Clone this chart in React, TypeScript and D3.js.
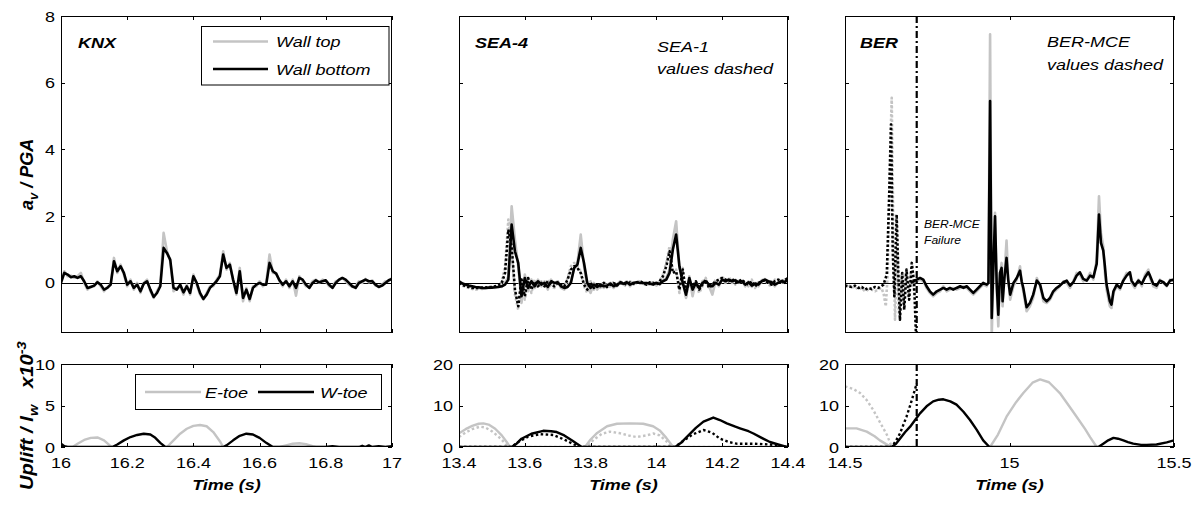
import React from 'react';
import * as d3 from 'd3';

type Pt = [number, number];

// ---------------- DATA ----------------
const sampleStep = 0.01;

// KNX acceleration (a_v / PGA), sampled every 0.01 s from 16.0 s
const knxStart = 16.0;
const knxWallTop = [
  0.05, 0.35, 0.2, 0.22, 0.15, 0.2, 0.3, 0.0, -0.2, -0.1,
  -0.1, 0.05, -0.1, -0.25, -0.12, -0.05, 0.75, 0.3, 0.55, 0.25,
  -0.1, 0.1, -0.2, 0.0, -0.3, 0.0, 0.1, -0.25, -0.45, -0.25,
  -0.05, 1.5, 0.95, 0.65, -0.25, -0.15, -0.1, -0.35, -0.05, -0.35,
  0.25, -0.05, -0.35, -0.5, -0.3, -0.1, -0.1, 0.1, 0.25, 0.95,
  0.4, 0.6, 0.05, -0.35, 0.45, -0.55, -0.15, -0.55, -0.1, -0.1,
  0.05, -0.1, 0.0, 0.85, 0.3, 0.3, 0.05, -0.1, 0.1, -0.15,
  0.1, -0.38, 0.2, 0.05, -0.1, -0.1, 0.05, 0.1, 0.0, 0.1,
  0.05, -0.1, -0.12, 0.05, 0.08, 0.15, 0.05, -0.05, -0.12, -0.1,
  0.05, 0.0, 0.12, 0.02, 0.08, -0.08, -0.1, -0.05, 0.05, 0.05,
  0.15,
];
const knxWallBottom = [
  0.0, 0.3, 0.25, 0.17, 0.2, 0.15, 0.2, 0.05, -0.15, -0.12,
  -0.08, 0.02, -0.05, -0.2, -0.15, -0.05, 0.65, 0.35, 0.5, 0.3,
  -0.05, 0.05, -0.15, -0.05, -0.25, -0.02, 0.05, -0.2, -0.42, -0.3,
  -0.1, 1.05, 0.9, 0.7, -0.15, -0.2, -0.05, -0.28, -0.1, -0.3,
  0.2, 0.0, -0.3, -0.48, -0.35, -0.15, -0.05, 0.05, 0.2, 0.85,
  0.45, 0.55, 0.1, -0.3, 0.35, -0.45, -0.2, -0.48, -0.15, -0.05,
  0.0, -0.05, -0.05, 0.6, 0.35, 0.28, 0.08, -0.05, 0.05, -0.1,
  0.05, -0.15, 0.15, 0.1, -0.05, -0.15, 0.0, 0.08, 0.02, 0.05,
  0.08, -0.05, -0.15, 0.0, 0.1, 0.15, 0.1, 0.0, -0.1, -0.15,
  0.0, 0.05, 0.1, 0.05, 0.05, -0.05, -0.12, -0.08, 0.0, 0.08,
  0.12,
];

// SEA-4 (solid) and SEA-1 (dashed), sampled every 0.01 s from 13.4 s
const seaStart = 13.4;
const sea4WallTop = [
  0.05, 0.0, -0.08, -0.1, -0.12, -0.15, -0.15, -0.18, -0.15, -0.15,
  -0.12, -0.15, -0.1, -0.12, 0.0, 0.2, 2.3, 1.3, 0.5, -0.6,
  0.25, -0.25, 0.1, -0.15, 0.1, -0.1, 0.05, -0.2, 0.1, -0.05,
  0.05, -0.15, -0.2, -0.1, 0.05, 0.45, 0.6, 1.45, 0.5, -0.1,
  -0.3, 0.0, -0.2, -0.05, -0.15, -0.05, 0.0, -0.15, -0.05, 0.05,
  -0.05, 0.05, -0.1, 0.02, 0.0, 0.05, -0.02, 0.0, -0.05, -0.02,
  0.02, -0.05, 0.08, 0.15, 0.4, 1.3, 1.85, 0.45, 0.1, -0.45,
  0.2, -0.4, 0.05, -0.2, 0.05, 0.1, -0.1, -0.35, 0.05, -0.1,
  0.15, 0.0, 0.12, 0.0, 0.1, 0.0, 0.08, -0.1, 0.05, -0.12,
  0.0, -0.1, 0.08, 0.12, 0.02, 0.05, -0.1, 0.02, 0.08, 0.0,
  0.15,
];
const sea4WallBottom = [
  0.05, -0.02, -0.05, -0.08, -0.1, -0.12, -0.13, -0.15, -0.15, -0.14,
  -0.14, -0.13, -0.12, -0.1, -0.05, 0.1, 1.75, 0.95, 0.6, -0.4,
  0.15, -0.15, 0.05, -0.1, 0.05, -0.05, 0.0, -0.12, 0.05, 0.0,
  0.02, -0.1, -0.15, -0.12, 0.0, 0.45, 0.55, 1.05, 0.6, 0.0,
  -0.15, -0.05, -0.12, -0.05, -0.1, -0.08, -0.02, -0.1, -0.05, 0.0,
  -0.02, 0.02, -0.05, 0.0, 0.02, 0.0, 0.0, 0.0, -0.02, -0.05,
  0.0, -0.03, 0.05, 0.1, 0.3, 1.0, 1.45, 0.5, 0.0, -0.35,
  0.15, -0.2, 0.0, -0.15, 0.0, 0.05, -0.05, -0.1, 0.0, -0.05,
  0.1, 0.05, 0.1, 0.05, 0.08, 0.02, 0.05, -0.05, 0.02, -0.08,
  -0.02, -0.05, 0.05, 0.1, 0.05, 0.02, -0.05, 0.0, 0.05, 0.02,
  0.12,
];
const sea1WallTop = [
  0.0, -0.08, -0.12, -0.15, -0.18, -0.2, -0.18, -0.15, -0.16, -0.14,
  -0.15, -0.12, -0.1, 0.05, 0.5, 1.9, 1.0, -0.35, -0.8, 0.15,
  -0.5, 0.2, -0.3, 0.1, -0.15, 0.05, -0.15, 0.1, -0.1, -0.15,
  0.05, -0.1, -0.15, 0.15, 0.5, 0.6, 0.5, 0.35, -0.1, -0.3,
  0.05, -0.2, -0.1, -0.15, 0.05, -0.15, -0.1, 0.05, -0.1, 0.0,
  -0.05, -0.1, 0.05, -0.05, 0.02, 0.08, -0.02, -0.08, 0.0, 0.02,
  -0.08, 0.05, 0.25, 0.6, 1.1, 0.35, 0.4, -0.3, 0.45, -0.45,
  0.1, -0.15, 0.0, -0.3, -0.1, 0.15, -0.2, -0.1, 0.1, 0.05,
  0.2, 0.05, 0.1, 0.15, -0.05, 0.1, 0.05, -0.05, -0.1, 0.1,
  -0.15, 0.05, 0.0, 0.1, -0.05, -0.1, 0.1, 0.05, 0.0, 0.1,
  0.1,
];
const sea1WallBottom = [
  0.0, -0.05, -0.1, -0.12, -0.15, -0.15, -0.15, -0.14, -0.14, -0.12,
  -0.12, -0.1, -0.08, 0.0, 0.3, 1.6, 1.1, -0.2, -0.7, 0.1,
  -0.4, 0.15, -0.2, 0.05, -0.1, 0.0, -0.1, 0.05, -0.05, -0.1,
  0.0, -0.05, -0.1, 0.1, 0.4, 0.5, 0.45, 0.3, -0.05, -0.2,
  0.0, -0.15, -0.05, -0.1, 0.0, -0.12, -0.05, 0.0, -0.08, 0.02,
  0.0, -0.05, 0.02, -0.02, 0.0, 0.05, 0.0, -0.05, 0.02, 0.0,
  -0.05, 0.05, 0.2, 0.5, 0.95, 0.3, 0.35, -0.2, 0.4, -0.3,
  0.05, -0.1, 0.05, -0.2, -0.05, 0.1, -0.15, -0.05, 0.05, 0.1,
  0.15, 0.1, 0.05, 0.12, 0.0, 0.05, 0.1, 0.0, -0.05, 0.05,
  -0.1, 0.0, 0.05, 0.08, 0.0, -0.05, 0.05, 0.1, 0.05, 0.08,
  0.15,
];

// BER (solid) and BER-MCE (dashed), [time, a_v/PGA]
const berWallTop: Pt[] = [
  [14.7, 0.0], [14.718, 0.05], [14.728, 0.1], [14.738, 0.05], [14.748, -0.15], [14.758, -0.3], [14.768, -0.4],
  [14.779, -0.3], [14.789, -0.25], [14.799, -0.1], [14.809, -0.25], [14.819, -0.2], [14.829, -0.15], [14.839, -0.2],
  [14.85, -0.15], [14.86, -0.1], [14.87, -0.15], [14.88, -0.25], [14.89, -0.35], [14.9, -0.25], [14.91, -0.15],
  [14.92, -0.05], [14.931, -0.1], [14.936, 0.0], [14.941, 7.45], [14.946, -1.6], [14.951, 0.3], [14.956, 2.1],
  [14.961, -0.2], [14.966, -1.3], [14.971, 0.2], [14.976, 0.6], [14.979, -0.7], [14.985, 0.3], [14.991, 1.27],
  [14.996, 0.2], [15.002, -0.5], [15.012, -0.1], [15.022, 0.1], [15.032, 0.5], [15.037, 0.0], [15.042, -0.25],
  [15.052, -0.85], [15.062, -0.7], [15.072, -0.45], [15.083, 0.15], [15.093, -0.1], [15.103, -0.55], [15.113, -0.6],
  [15.123, -0.5], [15.133, -0.3], [15.143, -0.2], [15.153, -0.1], [15.164, 0.05], [15.174, 0.0], [15.184, -0.15],
  [15.194, 0.05], [15.204, 0.3], [15.214, 0.25], [15.224, 0.05], [15.235, 0.1], [15.245, 0.3], [15.255, 0.1],
  [15.265, 0.7], [15.272, 2.6], [15.278, 1.5], [15.285, 1.1], [15.29, 0.3], [15.295, -0.2], [15.305, -0.7],
  [15.31, -0.75], [15.316, -0.3], [15.326, -0.1], [15.336, -0.2], [15.346, 0.1], [15.356, 0.3], [15.366, 0.25],
  [15.371, 0.0], [15.381, -0.15], [15.392, 0.1], [15.402, -0.1], [15.412, 0.25], [15.422, 0.4], [15.427, 0.15],
  [15.437, -0.1], [15.447, -0.15], [15.457, 0.1], [15.468, 0.0], [15.478, -0.1], [15.488, 0.1], [15.5, 0.05],
];
const berWallBottom: Pt[] = [
  [14.7, 0.0], [14.718, 0.1], [14.728, 0.15], [14.738, 0.1], [14.748, -0.1], [14.758, -0.25], [14.768, -0.35],
  [14.779, -0.25], [14.789, -0.2], [14.799, -0.15], [14.809, -0.2], [14.819, -0.15], [14.829, -0.2], [14.839, -0.15],
  [14.85, -0.1], [14.86, -0.15], [14.87, -0.1], [14.88, -0.2], [14.89, -0.3], [14.9, -0.2], [14.91, -0.1],
  [14.92, 0.0], [14.931, -0.05], [14.936, 0.0], [14.941, 5.45], [14.946, -1.05], [14.951, 0.5], [14.956, 2.0],
  [14.961, 0.0], [14.966, -0.95], [14.971, 0.3], [14.976, 0.45], [14.979, -0.55], [14.985, 0.2], [14.991, 0.75],
  [14.996, 0.1], [15.002, -0.35], [15.012, 0.0], [15.022, 0.15], [15.032, 0.37], [15.037, 0.05], [15.042, -0.15],
  [15.052, -0.73], [15.062, -0.6], [15.072, -0.35], [15.083, 0.07], [15.093, -0.05], [15.103, -0.45], [15.113, -0.55],
  [15.123, -0.45], [15.133, -0.25], [15.143, -0.15], [15.153, -0.08], [15.164, 0.02], [15.174, 0.07], [15.184, -0.08],
  [15.194, 0.02], [15.204, 0.22], [15.214, 0.32], [15.224, 0.12], [15.235, 0.07], [15.245, 0.22], [15.255, 0.17],
  [15.265, 0.57], [15.272, 2.05], [15.278, 1.2], [15.285, 0.97], [15.29, 0.5], [15.295, -0.05], [15.305, -0.55],
  [15.31, -0.65], [15.316, -0.25], [15.326, -0.05], [15.336, -0.15], [15.346, 0.07], [15.356, 0.22], [15.366, 0.32],
  [15.371, 0.07], [15.381, -0.08], [15.392, 0.07], [15.402, -0.03], [15.412, 0.17], [15.422, 0.32], [15.427, 0.22],
  [15.437, -0.03], [15.447, -0.08], [15.457, 0.07], [15.468, 0.02], [15.478, -0.08], [15.488, 0.07], [15.5, 0.1],
];
const berMceWallTop: Pt[] = [
  [14.5, -0.1], [14.51, -0.05], [14.52, -0.15], [14.53, -0.1], [14.541, -0.2], [14.551, -0.15], [14.561, -0.25],
  [14.571, -0.2], [14.581, -0.2], [14.591, -0.25], [14.601, -0.2], [14.61, -0.15], [14.617, -0.3], [14.624, -0.7],
  [14.63, 0.3], [14.636, 3.5], [14.642, 5.55], [14.647, 1.5], [14.652, -1.1], [14.658, 1.0], [14.664, -0.9],
  [14.67, 0.2], [14.677, -0.6], [14.684, 0.3], [14.692, -0.4], [14.7, 0.3], [14.708, -0.2], [14.715, 0.1],
];
const berMceWallBottom: Pt[] = [
  [14.5, -0.08], [14.51, -0.1], [14.52, -0.12], [14.53, -0.08], [14.541, -0.15], [14.551, -0.12], [14.561, -0.2],
  [14.571, -0.15], [14.581, -0.18], [14.591, -0.12], [14.601, -0.15], [14.61, -0.1], [14.617, -0.05], [14.627, 0.25],
  [14.634, 2.5], [14.64, 4.75], [14.645, 1.0], [14.65, -0.4], [14.657, 2.05], [14.662, 0.3], [14.667, -1.1],
  [14.674, 0.3], [14.68, -0.8], [14.687, 0.4], [14.695, -0.5], [14.703, 0.6], [14.71, 0.0], [14.716, -1.6],
];
const berFailureTime = 14.718;

// Uplift / l_w (x10^-3)
const knxEToe: Pt[] = [
  [16, 0], [16.035, 0], [16.05, 0.4], [16.07, 0.85], [16.09, 1.1], [16.11, 1.15], [16.13, 0.8], [16.15, 0.1],
  [16.155, 0], [16.32, 0], [16.34, 0.8], [16.36, 1.6], [16.38, 2.2], [16.4, 2.55], [16.42, 2.65], [16.44, 2.5],
  [16.46, 1.8], [16.48, 0.7], [16.49, 0], [16.66, 0], [16.68, 0.2], [16.7, 0.4], [16.72, 0.45], [16.74, 0.35],
  [16.76, 0.1], [16.77, 0], [17, 0],
];
const knxWToe: Pt[] = [
  [16, 0.4], [16.01, 0.1], [16.02, 0], [16.155, 0], [16.17, 0.3], [16.19, 0.8], [16.21, 1.2], [16.23, 1.45],
  [16.25, 1.6], [16.27, 1.5], [16.285, 1.1], [16.3, 0.5], [16.315, 0], [16.49, 0], [16.5, 0.2], [16.52, 0.8],
  [16.54, 1.35], [16.56, 1.6], [16.58, 1.5], [16.6, 1.1], [16.62, 0.5], [16.64, 0], [16.8, 0], [16.82, 0.1],
  [16.84, 0], [16.9, 0], [16.91, 0.15], [16.92, 0], [16.93, 0.2], [16.94, 0], [16.96, 0.1], [16.98, 0], [17, 0.1],
];
const sea4EToe: Pt[] = [
  [13.4, 3.3], [13.42, 4.3], [13.44, 5.1], [13.46, 5.6], [13.474, 5.7], [13.49, 5.4], [13.51, 4.4], [13.53, 2.8],
  [13.545, 1.2], [13.555, 0], [13.783, 0], [13.8, 1.8], [13.82, 3.4], [13.85, 5.0], [13.88, 5.6], [13.92, 5.7],
  [13.96, 5.6], [13.99, 5.0], [14.01, 4.0], [14.03, 2.2], [14.051, 0], [14.4, 0],
];
const sea1EToe: Pt[] = [
  [13.4, 2.4], [13.42, 3.5], [13.44, 4.3], [13.464, 4.9], [13.48, 4.7], [13.5, 3.8], [13.52, 2.5], [13.54, 0.9],
  [13.55, 0], [13.788, 0], [13.81, 1.8], [13.835, 3.2], [13.859, 3.7], [13.89, 3.3], [13.92, 2.7], [13.94, 2.4],
  [13.97, 2.8], [13.991, 3.25], [14.01, 2.8], [14.03, 1.4], [14.046, 0], [14.4, 0],
];
const sea4WToe: Pt[] = [
  [13.4, 0], [13.56, 0], [13.575, 0.8], [13.59, 2.0], [13.62, 3.2], [13.656, 3.9], [13.68, 3.8], [13.697, 3.6],
  [13.72, 2.8], [13.745, 1.5], [13.773, 0], [14.057, 0], [14.075, 1.0], [14.092, 2.4], [14.12, 4.6], [14.143, 6.1],
  [14.173, 7.1], [14.193, 6.5], [14.214, 5.7], [14.24, 4.9], [14.254, 4.5], [14.28, 3.8], [14.295, 3.25],
  [14.32, 2.2], [14.345, 1.2], [14.37, 0.6], [14.396, 0],
];
const sea1WToe: Pt[] = [
  [13.4, 0], [13.56, 0], [13.58, 1.2], [13.61, 2.5], [13.646, 3.1], [13.687, 2.9], [13.72, 1.8], [13.75, 0.6],
  [13.768, 0], [14.057, 0], [14.08, 1.4], [14.11, 3.0], [14.143, 4.1], [14.17, 3.4], [14.193, 2.0], [14.22, 1.2],
  [14.244, 0.8], [14.295, 0.8], [14.345, 0.6], [14.396, 0],
];
const berEToe: Pt[] = [
  [14.5, 4.5], [14.535, 4.5], [14.566, 3.7], [14.59, 2.6], [14.606, 1.6], [14.625, 0.7], [14.642, 0], [14.941, 0],
  [14.965, 3.0], [14.991, 7.3], [15.02, 10.8], [15.042, 13.0], [15.07, 15.5], [15.093, 16.3], [15.12, 15.6],
  [15.153, 13.0], [15.18, 10.0], [15.204, 7.3], [15.23, 4.3], [15.245, 2.4], [15.265, 0], [15.5, 0],
];
const berWToe: Pt[] = [
  [14.5, 0], [14.642, 0], [14.655, 0.8], [14.667, 2.0], [14.683, 3.6], [14.698, 4.9], [14.713, 6.5], [14.728, 8.1],
  [14.748, 9.8], [14.768, 11.0], [14.785, 11.4], [14.799, 11.5], [14.82, 11.0], [14.839, 10.2], [14.86, 8.5],
  [14.88, 6.5], [14.9, 4.2], [14.92, 1.6], [14.939, 0], [15.27, 0], [15.285, 0.8], [15.3, 1.6], [15.316, 2.2],
  [15.33, 2.0], [15.346, 1.6], [15.36, 1.2], [15.376, 0.8], [15.4, 0.5], [15.417, 0.5], [15.447, 0.6],
  [15.478, 1.1], [15.5, 1.6],
];
const berMceEToe: Pt[] = [
  [14.5, 14.6], [14.525, 14.0], [14.546, 13.0], [14.566, 11.3], [14.586, 8.9], [14.606, 6.0], [14.627, 3.0],
  [14.642, 0], [14.718, 0],
];
const berMceWToe: Pt[] = [
  [14.5, 0], [14.642, 0], [14.655, 1.5], [14.667, 3.25], [14.687, 7.3], [14.7, 10.5], [14.718, 15.3],
];

// Ticks
const accelTicks = [0, 2, 4, 6, 8];
const knxTimeTicks = [16, 16.2, 16.4, 16.6, 16.8, 17];
const seaTimeTicks = [13.4, 13.6, 13.8, 14, 14.2, 14.4];
const berTimeTicks = [14.5, 15, 15.5];
const knxUpliftTicks = [0, 5, 10];
const upliftTicks = [0, 10, 20];

// ---------------- RENDERING ----------------
const FONT = "'Liberation Sans', Arial, Helvetica, sans-serif";
const GRAY = '#c4c4c4';
const SX = 1.2;

const regular = (t0: number, vals: number[]): Pt[] => vals.map((v, i) => [t0 + i * sampleStep, v]);

type Series = { data: Pt[]; color: string; width: number; dash?: string };

function Txt(props: {
  x: number; y: number; size?: number; anchor?: string; bold?: boolean; italic?: boolean; sx?: number;
  children: React.ReactNode;
}) {
  const { x, y, size = 15, anchor = 'start', bold = false, italic = false, sx = SX, children } = props;
  return (
    <text
      transform={`translate(${x},${y}) scale(${sx},1)`}
      fontFamily={FONT}
      fontSize={size}
      textAnchor={anchor}
      fontWeight={bold ? 'bold' : 'normal'}
      fontStyle={italic ? 'italic' : 'normal'}
      fill="#000"
    >
      {children}
    </text>
  );
}

function Frame(props: {
  id: string; x0: number; x1: number; y0: number; y1: number;
  xDomain: [number, number]; yDomain: [number, number];
  xTicks: number[]; yTicks: number[]; xLabels: boolean; yLabels: boolean; zeroLine?: boolean;
  series: Series[]; vline?: number;
}) {
  const { id, x0, x1, y0, y1, xDomain, yDomain, xTicks, yTicks, xLabels, yLabels, zeroLine, series, vline } = props;
  const xs = d3.scaleLinear().domain(xDomain).range([x0, x1]);
  const ys = d3.scaleLinear().domain(yDomain).range([y1, y0]);
  const line = d3.line<Pt>().x((d) => xs(d[0])).y((d) => ys(d[1]));
  const TL = 4;
  return (
    <g>
      <defs>
        <clipPath id={id}>
          <rect x={x0} y={y0} width={x1 - x0} height={y1 - y0} />
        </clipPath>
      </defs>
      {zeroLine && (
        <line x1={x0} x2={x1} y1={Math.round(ys(0)) + 0.5} y2={Math.round(ys(0)) + 0.5} stroke="#000" strokeWidth={1} />
      )}
      <g clipPath={`url(#${id})`}>
        {series.map((s, i) => (
          <path
            key={i}
            d={line(s.data) || ''}
            fill="none"
            stroke={s.color}
            strokeWidth={s.width}
            strokeDasharray={s.dash}
            strokeLinejoin="round"
          />
        ))}
        {vline !== undefined && (
          <line
            x1={xs(vline)} x2={xs(vline)} y1={y0} y2={y1}
            stroke="#000" strokeWidth={2.2} strokeDasharray="7,3,2,3"
          />
        )}
      </g>
      <rect x={x0 + 0.5} y={y0 + 0.5} width={x1 - x0 - 1} height={y1 - y0 - 1} fill="none" stroke="#000" strokeWidth={1} />
      {xTicks.map((t) => {
        const x = Math.round(xs(t)) + 0.5;
        return (
          <g key={`x${t}`}>
            <line x1={x} x2={x} y1={y1} y2={y1 - TL} stroke="#000" />
            <line x1={x} x2={x} y1={y0} y2={y0 + TL} stroke="#000" />
            {xLabels && (
              <Txt x={xs(t)} y={y1 + 21} anchor="middle">{String(t)}</Txt>
            )}
          </g>
        );
      })}
      {yTicks.map((t) => {
        const y = Math.round(ys(t)) + 0.5;
        return (
          <g key={`y${t}`}>
            <line x1={x0} x2={x0 + TL} y1={y} y2={y} stroke="#000" />
            <line x1={x1} x2={x1 - TL} y1={y} y2={y} stroke="#000" />
            {yLabels && (
              <Txt x={x0 - 6} y={ys(t) + 5.5} anchor="end">{String(t)}</Txt>
            )}
          </g>
        );
      })}
    </g>
  );
}

const COLS: [number, number][] = [[61, 392], [459, 788], [845, 1174]];
const TOP: [number, number] = [16, 333];
const BOT: [number, number] = [364, 447];
const ACC_DOMAIN: [number, number] = [-1.5, 8];

export default function App() {
  const knxTopSeries: Series[] = [
    { data: regular(knxStart, knxWallTop), color: GRAY, width: 2.6 },
    { data: regular(knxStart, knxWallBottom), color: '#000', width: 2.6 },
  ];
  const seaTopSeries: Series[] = [
    { data: regular(seaStart, sea4WallTop), color: GRAY, width: 2.6 },
    { data: regular(seaStart, sea1WallTop), color: GRAY, width: 2.6, dash: '2.5,2' },
    { data: regular(seaStart, sea4WallBottom), color: '#000', width: 2.6 },
    { data: regular(seaStart, sea1WallBottom), color: '#000', width: 2.6, dash: '2.5,2' },
  ];
  const berTopSeries: Series[] = [
    { data: berWallTop, color: GRAY, width: 2.6 },
    { data: berMceWallTop, color: GRAY, width: 2.6, dash: '2.5,2' },
    { data: berWallBottom, color: '#000', width: 2.6 },
    { data: berMceWallBottom, color: '#000', width: 2.6, dash: '2.5,2' },
  ];
  const knxBotSeries: Series[] = [
    { data: knxEToe, color: GRAY, width: 2.4 },
    { data: knxWToe, color: '#000', width: 2.4 },
  ];
  const seaBotSeries: Series[] = [
    { data: sea4EToe, color: GRAY, width: 2.4 },
    { data: sea1EToe, color: GRAY, width: 2.4, dash: '2.5,2.5' },
    { data: sea4WToe, color: '#000', width: 2.4 },
    { data: sea1WToe, color: '#000', width: 2.4, dash: '2.5,2.5' },
  ];
  const berBotSeries: Series[] = [
    { data: berEToe, color: GRAY, width: 2.4 },
    { data: berMceEToe, color: GRAY, width: 2.4, dash: '2.5,2.5' },
    { data: berWToe, color: '#000', width: 2.4 },
    { data: berMceWToe, color: '#000', width: 2.4, dash: '2.5,2.5' },
  ];

  return (
    <svg
      width={1202}
      height={505}
      viewBox="0 0 1202 505"
      style={{ position: 'absolute', left: 0, top: 0, background: '#fff' }}
      fontFamily={FONT}
    >
      <rect x={0} y={0} width={1202} height={505} fill="#fff" />

      {/* Top row */}
      <Frame id="c1" x0={COLS[0][0]} x1={COLS[0][1]} y0={TOP[0]} y1={TOP[1]} xDomain={[16, 17]} yDomain={ACC_DOMAIN}
        xTicks={knxTimeTicks} yTicks={accelTicks} xLabels={false} yLabels={true} zeroLine series={knxTopSeries} />
      <Frame id="c2" x0={COLS[1][0]} x1={COLS[1][1]} y0={TOP[0]} y1={TOP[1]} xDomain={[13.4, 14.4]} yDomain={ACC_DOMAIN}
        xTicks={seaTimeTicks} yTicks={accelTicks} xLabels={false} yLabels={false} zeroLine series={seaTopSeries} />
      <Frame id="c3" x0={COLS[2][0]} x1={COLS[2][1]} y0={TOP[0]} y1={TOP[1]} xDomain={[14.5, 15.5]} yDomain={ACC_DOMAIN}
        xTicks={berTimeTicks} yTicks={accelTicks} xLabels={false} yLabels={false} zeroLine series={berTopSeries}
        vline={berFailureTime} />

      {/* Bottom row */}
      <Frame id="c4" x0={COLS[0][0]} x1={COLS[0][1]} y0={BOT[0]} y1={BOT[1]} xDomain={[16, 17]} yDomain={[0, 10]}
        xTicks={knxTimeTicks} yTicks={knxUpliftTicks} xLabels={true} yLabels={true} series={knxBotSeries} />
      <Frame id="c5" x0={COLS[1][0]} x1={COLS[1][1]} y0={BOT[0]} y1={BOT[1]} xDomain={[13.4, 14.4]} yDomain={[0, 20]}
        xTicks={seaTimeTicks} yTicks={upliftTicks} xLabels={true} yLabels={true} series={seaBotSeries} />
      <Frame id="c6" x0={COLS[2][0]} x1={COLS[2][1]} y0={BOT[0]} y1={BOT[1]} xDomain={[14.5, 15.5]} yDomain={[0, 20]}
        xTicks={berTimeTicks} yTicks={upliftTicks} xLabels={true} yLabels={true} series={berBotSeries}
        vline={berFailureTime} />

      {/* Panel titles and notes */}
      <Txt x={78} y={48} bold italic>KNX</Txt>
      <Txt x={475} y={48} bold italic>SEA-4</Txt>
      <Txt x={657} y={52} italic>SEA-1</Txt>
      <Txt x={657} y={74} italic>values dashed</Txt>
      <Txt x={860} y={48} bold italic>BER</Txt>
      <Txt x={1047} y={47} italic>BER-MCE</Txt>
      <Txt x={1047} y={69.5} italic>values dashed</Txt>
      <Txt x={924} y={228} size={11} sx={1.1} italic>BER-MCE</Txt>
      <Txt x={924} y={243.5} size={11} sx={1.1} italic>Failure</Txt>

      {/* Top legend */}
      <rect x={201.5} y={26.5} width={187.5} height={58.5} fill="#fff" stroke="#000" strokeWidth={1} />
      <line x1={213} x2={268} y1={41.5} y2={41.5} stroke={GRAY} strokeWidth={2.6} />
      <Txt x={276} y={47} italic>Wall top</Txt>
      <line x1={213} x2={268} y1={69} y2={69} stroke="#000" strokeWidth={2.6} />
      <Txt x={276} y={74.5} italic>Wall bottom</Txt>

      {/* Bottom legend */}
      <rect x={135.5} y={374.5} width={246} height={35} fill="#fff" stroke="#000" strokeWidth={1} />
      <line x1={145} x2={201} y1={392} y2={392} stroke={GRAY} strokeWidth={2.4} />
      <Txt x={205} y={397.5} italic>E-toe</Txt>
      <line x1={258} x2={314} y1={392} y2={392} stroke="#000" strokeWidth={2.4} />
      <Txt x={320} y={397.5} italic>W-toe</Txt>

      {/* X axis titles */}
      {COLS.map((c, i) => (
        <Txt key={i} x={(c[0] + c[1]) / 2} y={490} anchor="middle" bold italic>Time (s)</Txt>
      ))}

      {/* Y axis titles */}
      <text transform="translate(33,210) rotate(-90)" fontFamily={FONT} fontSize={18} fontWeight="bold" fontStyle="italic">
        <tspan>a</tspan>
        <tspan dy={5} fontSize={13}>v</tspan>
        <tspan dy={-5}>{' / PGA'}</tspan>
      </text>
      <text transform="translate(33,490) rotate(-90) scale(1.12,1)" fontFamily={FONT} fontSize={18} fontWeight="bold" fontStyle="italic">
        <tspan>{'Uplift / l'}</tspan>
        <tspan dy={5} fontSize={13}>w</tspan>
        <tspan dy={-5}>{'\u00a0\u00a0 x10'}</tspan>
        <tspan dy={-7} fontSize={13}>-3</tspan>
      </text>
    </svg>
  );
}
